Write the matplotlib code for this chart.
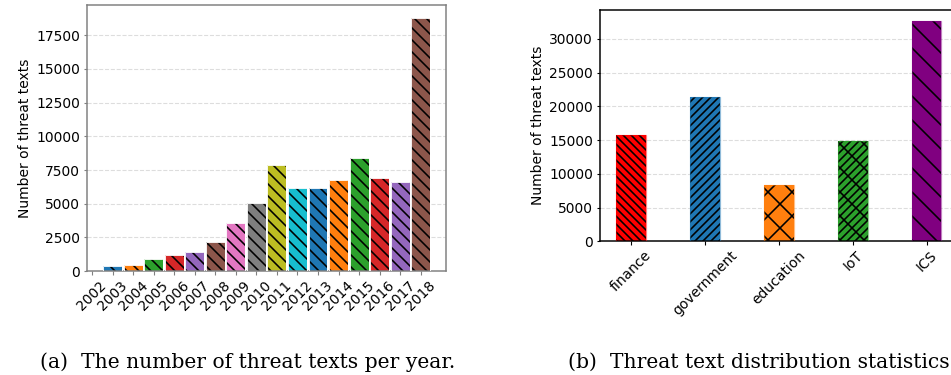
import numpy as np
import matplotlib.pyplot as plt

years = list(range(2002, 2019))
year_counts = [0, 371, 445, 891, 1163, 1386, 2128, 3564, 5074, 7870,
               6188, 6188, 6757, 8415, 6880, 6584, 18810]

sectors = ["finance", "government", "education", "IoT", "ICS"]
sector_counts = [15813, 21429, 8325, 14828, 32660]
sector_colors = ["red", "tab:blue", "tab:orange", "tab:green", "purple"]
sector_hatches = ["\\\\\\", "///", "x", "//x", "\\"]

tab = plt.rcParams["axes.prop_cycle"].by_key()["color"]

# drawn at 72 dpi (1 pt = 1 px) so hatch spacing matches the original
DPI = 72
plt.rcParams["xtick.major.size"] = 3.5
plt.rcParams["ytick.major.size"] = 3.5
plt.rcParams["xtick.major.width"] = 1.1
plt.rcParams["ytick.major.width"] = 1.1
plt.rcParams["axes.linewidth"] = 1.5
plt.rcParams["hatch.linewidth"] = 1.6
fs = 13.9

fig = plt.figure(figsize=(951 / DPI, 375 / DPI), dpi=DPI)

# (a) per year
ax1 = fig.add_axes([0.0915, 0.2773, 0.3775, 0.7093])
for i, (yr, v) in enumerate(zip(years[1:], year_counts[1:])):
    c = tab[i % 10]
    ax1.bar(yr, v, width=0.92, color=c, hatch="\\\\", edgecolor="black", linewidth=0, zorder=2)
    ax1.bar(yr, v, width=0.92, fill=False, edgecolor="white", linewidth=0.9, zorder=3)
ax1.set_xlim(2001.757, 2019.23)
ax1.set_ylim(0, 19750)
ax1.set_xticks(years)
ax1.set_xticklabels([str(y) for y in years], rotation=45, fontsize=fs)
ax1.set_yticks(np.arange(0, 17501, 2500))
ax1.tick_params(axis="y", labelsize=fs)
ax1.set_ylabel("Number of threat texts", fontsize=fs)
ax1.yaxis.grid(True, linestyle="--", color="#dddddd", linewidth=1.1, zorder=0)
ax1.set_axisbelow(True)
for s in ax1.spines.values():
    s.set_color("#808080")
ax1.tick_params(colors="#808080", labelcolor="black")

# (b) per sector
ax2 = fig.add_axes([0.631, 0.3565, 0.376, 0.6168])
x = np.arange(len(sectors))
for xi, v, c, h in zip(x, sector_counts, sector_colors, sector_hatches):
    ax2.bar(xi, v, width=0.4, color=c, hatch=h, edgecolor="black", linewidth=0, zorder=2)
    ax2.bar(xi, v, width=0.4, fill=False, edgecolor=c, alpha=0.5, linewidth=1.2, zorder=3)
ax2.set_xlim(-0.42, 4.42)
ax2.set_ylim(0, 34293)
ax2.set_xticks(x)
ax2.set_xticklabels(sectors, rotation=45, fontsize=fs)
ax2.set_yticks(np.arange(0, 30001, 5000))
ax2.tick_params(axis="y", labelsize=fs)
ax2.set_ylabel("Number of threat texts", fontsize=fs)
ax2.yaxis.grid(True, linestyle="--", color="#dddddd", linewidth=1.1, zorder=0)
ax2.set_axisbelow(True)

fig.text(40 / 951, 1 - 368 / 375, "(a)  The number of threat texts per year.", ha="left", va="baseline",
         family="DejaVu Serif", fontsize=20.3)
fig.text(568 / 951, 1 - 368 / 375, "(b)  Threat text distribution statistics.", ha="left", va="baseline",
         family="DejaVu Serif", fontsize=20.3)

fig.savefig("out.png", dpi=DPI)
